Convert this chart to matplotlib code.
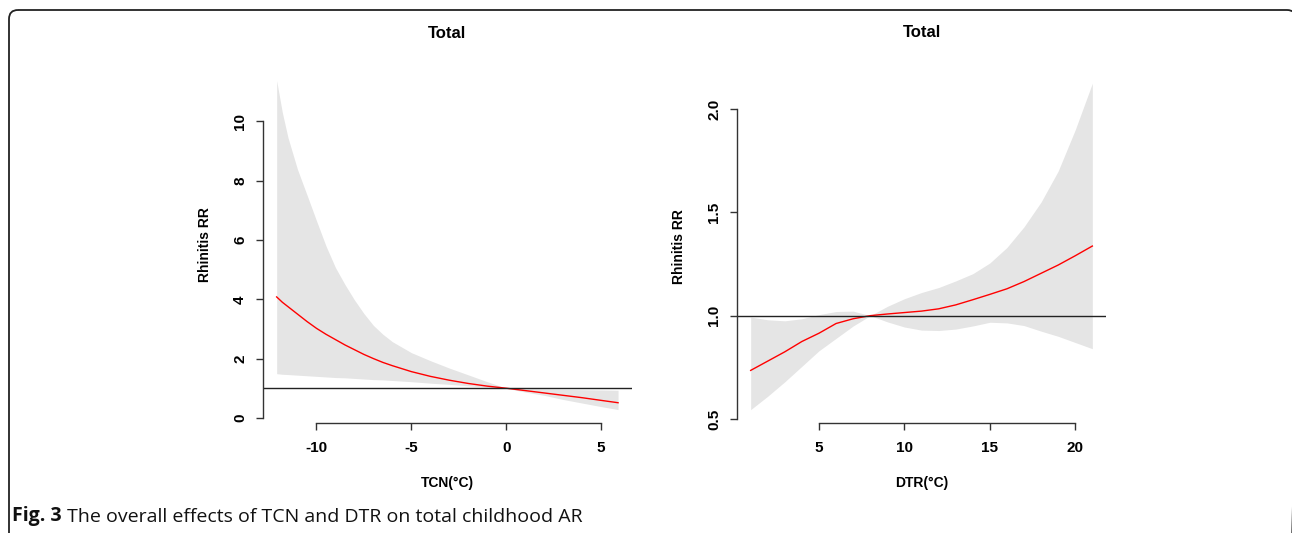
import matplotlib
matplotlib.use("Agg")
import matplotlib.pyplot as plt
from matplotlib.patches import FancyBboxPatch

# TCN panel (left)
tcn_x = [-12.1, -11.8, -11.5, -11, -10.5, -10, -9.5, -9, -8.5, -8, -7.5, -7, -6.5, -6, -5, -4, -3,
         -2, -1, 0, 1, 2, 3, 4, 5, 5.9]
tcn_rr = [4.08, 3.9, 3.75, 3.5, 3.25, 3.02, 2.82, 2.64, 2.46, 2.3, 2.14, 2.0, 1.87, 1.76, 1.56,
          1.4, 1.27, 1.16, 1.07, 1.0, 0.92, 0.84, 0.76, 0.68, 0.59, 0.51]
tcn_hi = [11.38, 10.3, 9.45, 8.38, 7.52, 6.65, 5.8, 5.07, 4.5, 3.98, 3.52, 3.12, 2.82, 2.57, 2.2,
          1.93, 1.68, 1.45, 1.22, 1.0, 0.98, 0.97, 0.96, 0.95, 0.94, 0.93]
tcn_lo = [1.49, 1.47, 1.46, 1.44, 1.42, 1.40, 1.38, 1.36, 1.35, 1.33, 1.31, 1.29, 1.28, 1.26, 1.22,
          1.17, 1.13, 1.08, 1.04, 1.0, 0.87, 0.76, 0.62, 0.5, 0.38, 0.28]

# DTR panel (right)
dtr_x = list(range(1, 22))
dtr_rr = [0.735, 0.78, 0.825, 0.875, 0.915, 0.962, 0.985, 1.0, 1.008, 1.015, 1.022, 1.033, 1.052,
          1.077, 1.103, 1.13, 1.165, 1.205, 1.245, 1.29, 1.337]
dtr_hi = [0.993, 0.98, 0.975, 0.985, 1.005, 1.02, 1.022, 1.0, 1.045, 1.082, 1.112, 1.136, 1.168,
          1.203, 1.255, 1.33, 1.43, 1.55, 1.70, 1.9, 2.125]
dtr_lo = [0.545, 0.61, 0.68, 0.755, 0.83, 0.89, 0.95, 1.0, 0.97, 0.945, 0.93, 0.928, 0.935,
          0.95, 0.968, 0.965, 0.952, 0.925, 0.9, 0.87, 0.84]

panels = [
    dict(x=tcn_x, rr=tcn_rr, lo=tcn_lo, hi=tcn_hi, xlabel="TCN(°C)",
         xticks=[-10, -5, 0, 5], yticks=[0, 2, 4, 6, 8, 10],
         yticklabels=["0", "2", "4", "6", "8", "10"], rect=[263, 67.4, 368.7, 355.3]),
    dict(x=dtr_x, rr=dtr_rr, lo=dtr_lo, hi=dtr_hi, xlabel="DTR(°C)",
         xticks=[5, 10, 15, 20], yticks=[0.5, 1.0, 1.5, 2.0],
         yticklabels=["0.5", "1.0", "1.5", "2.0"], rect=[737, 70.2, 369, 352.5]),
]

W, H = 1292, 533
fig = plt.figure(figsize=(W / 100, H / 100), dpi=100)
plt.rcParams['font.family'] = ['Liberation Sans', 'DejaVu Sans']

# background layer in pixel coords for the frame and caption
bg = fig.add_axes([0, 0, 1, 1])
bg.set_xlim(0, W)
bg.set_ylim(H, 0)
bg.axis('off')
bg.add_patch(FancyBboxPatch((9, 10), 1287, 600, boxstyle="round,pad=0,rounding_size=9",
                            fc='none', ec='#222222', lw=1.3, clip_on=False))
t1 = bg.text(12, 516, "Fig. 3", family='Open Sans', fontweight='bold', fontsize=14,
             va='center', ha='left', color='#111111')
bg.annotate(" The overall effects of TCN and DTR on total childhood AR", xy=(1, 0),
            xycoords=t1, va='bottom', ha='left', family='Open Sans', fontsize=14,
            color='#111111')

axis_col = '#333333'
for p in panels:
    l, t, w, h = p["rect"]
    ax = fig.add_axes([l / W, 1 - (t + h) / H, w / W, h / H])
    ax.fill_between(p["x"], p["lo"], p["hi"], color='#e5e5e5', lw=0)
    ax.plot(p["x"], p["rr"], color='red', lw=1)
    ax.axhline(1, color='#222222', lw=1)

    # R-style 4% axis extension
    xr = max(p["x"]) - min(p["x"])
    ax.set_xlim(min(p["x"]) - 0.04 * xr, max(p["x"]) + 0.04 * xr)
    ymin, ymax = min(p["lo"]), max(p["hi"])
    yr = ymax - ymin
    ax.set_ylim(ymin - 0.04 * yr, ymax + 0.04 * yr)

    for s in ['top', 'right']:
        ax.spines[s].set_visible(False)
    for s in ['left', 'bottom']:
        ax.spines[s].set_color(axis_col)
        ax.spines[s].set_linewidth(1)
    ax.spines['left'].set_bounds(p["yticks"][0], p["yticks"][-1])
    ax.spines['bottom'].set_bounds(p["xticks"][0], p["xticks"][-1])

    ax.set_xticks(p["xticks"])
    ax.set_xticklabels([str(v) for v in p["xticks"]], fontweight='bold', fontsize=11)
    ax.set_yticks(p["yticks"])
    ax.set_yticklabels(p["yticklabels"], fontweight='bold', fontsize=11,
                       rotation=90, va='center')
    ax.tick_params(axis='x', length=5, width=1, color=axis_col, pad=8.5)
    ax.tick_params(axis='y', length=5, width=1, color=axis_col, pad=6.5)

    ax.set_title("Total", fontweight='bold', fontsize=12, y=1 + (t - 33) / h, va='center', pad=0)
    ax.set_xlabel(p["xlabel"], fontweight='bold', fontsize=10, va='center')
    ax.xaxis.set_label_coords(0.5, -(483 - (t + h)) / h)
    ax.set_ylabel("Rhinitis RR", fontweight='bold', fontsize=10, va='center')
    ax.yaxis.set_label_coords(-58 / w, 0.5)

fig.savefig("out.png", dpi=100)
